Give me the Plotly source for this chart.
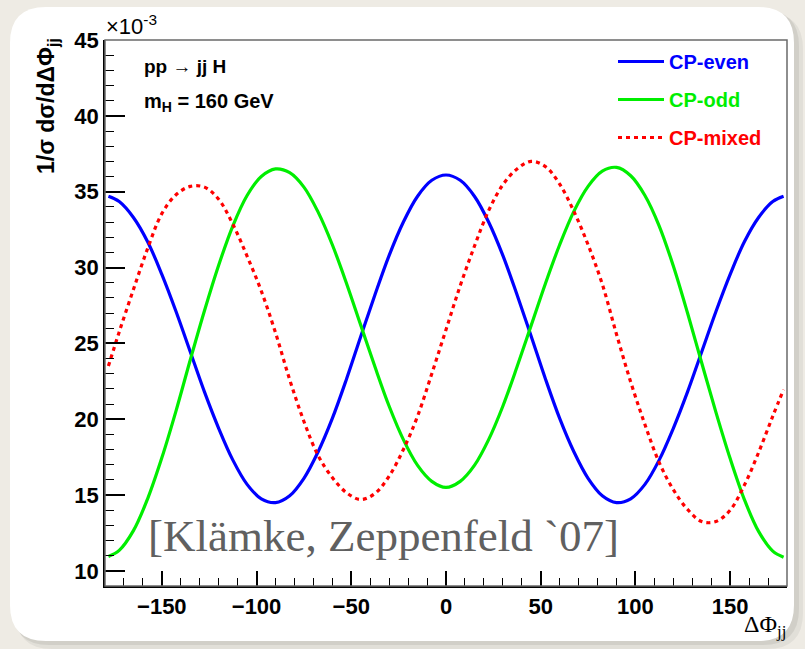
import plotly.graph_objects as go

# ---------------- data ----------------
phi = [-178.2, -172.5, -165, -157.5, -150, -142.5, -135, -127.5, -120, -112.5, -105, -97.5,
       -90, -82.5, -75, -67.5, -60, -52.5, -45, -37.5, -30, -22.5, -15, -7.5, 0,
       7.5, 15, 22.5, 30, 37.5, 45, 52.5, 60, 67.5, 75, 82.5, 90,
       97.5, 105, 112.5, 120, 127.5, 135, 142.5, 150, 157.5, 165, 172.5, 178.2]
cp_even = [34.7, 34.35, 33.3, 31.7, 29.55, 27.1, 24.45, 21.8, 19.4, 17.3, 15.7, 14.75,
           14.5, 14.95, 16.1, 17.85, 20.05, 22.65, 25.45, 28.2, 30.8, 33.0, 34.7, 35.75, 36.1,
           35.75, 34.7, 33.0, 30.8, 28.2, 25.45, 22.65, 20.05, 17.85, 16.1, 14.95, 14.5,
           14.75, 15.7, 17.3, 19.4, 21.8, 24.45, 27.1, 29.55, 31.7, 33.3, 34.35, 34.7]
cp_odd = [10.95, 11.35, 12.65, 14.75, 17.45, 20.55, 23.9, 27.15, 30.15, 32.75, 34.75, 36.0,
          36.5, 36.25, 35.3, 33.65, 31.5, 28.95, 26.2, 23.45, 20.85, 18.65, 16.95, 15.9, 15.5,
          15.9, 16.95, 18.65, 20.85, 23.45, 26.2, 28.95, 31.5, 33.7, 35.35, 36.35, 36.6,
          36.05, 34.75, 32.75, 30.1, 27.0, 23.7, 20.45, 17.4, 14.7, 12.6, 11.3, 10.9]
cp_mixed = [23.5, 25.75, 28.55, 31.25, 33.55, 34.8, 35.35, 35.3, 34.5, 32.85, 30.75, 28.45,
            25.7, 22.6, 19.85, 17.6, 16.15, 15.15, 14.7, 15.1, 16.25, 18.0, 20.2, 23.0, 25.9,
            28.8, 31.4, 33.75, 35.45, 36.5, 37.0, 36.65, 35.5, 33.7, 31.5, 28.9, 25.6,
            22.45, 19.65, 17.15, 15.35, 14.05, 13.25, 13.25, 14.0, 15.65, 17.8, 20.2, 21.95]
series_names = ["CP-even", "CP-odd", "CP-mixed"]
x_ticks = [-150, -100, -50, 0, 50, 100, 150]
y_ticks = [10, 15, 20, 25, 30, 35, 40, 45]

# ---------------- geometry ----------------
W, H = 805, 649
L, R, T, B = 105, 787, 40, 586


def xp(px):
    return (px - L) / (R - L)


def yp(py):
    return (B - py) / (B - T)


def rrect(x0, y0, x1, y1, r):
    pts = [
        ("M", (x0 + r, y0)), ("L", (x1 - r, y0)), ("Q", (x1, y0), (x1, y0 + r)),
        ("L", (x1, y1 - r)), ("Q", (x1, y1), (x1 - r, y1)), ("L", (x0 + r, y1)),
        ("Q", (x0, y1), (x0, y1 - r)), ("L", (x0, y0 + r)), ("Q", (x0, y0), (x0 + r, y0)),
    ]
    s = ""
    for item in pts:
        cmd = item[0]
        coords = " ".join(f"{xp(a):.5f},{yp(b):.5f}" for a, b in item[1:])
        s += f"{cmd} {coords} "
    return s + "Z"


SANS = "Liberation Sans, Arial, Helvetica, sans-serif"
SERIF = "Liberation Serif, Times New Roman, serif"

fig = go.Figure()
colors = ["#0000ff", "#00ee00", "#ff0000"]
for i, (name, vals) in enumerate(zip(series_names, [cp_even, cp_odd, cp_mixed])):
    fig.add_trace(go.Scatter(
        x=phi, y=vals, mode="lines", line_shape="spline",
        name=f"<span style='color:{colors[i]}'>{name}</span>",
        legendgroup=name,
        line=dict(color=colors[i], width=3.2,
                  dash="4px,4px" if name == "CP-mixed" else "solid"),
    ))

shapes = [
    dict(type="path", xref="paper", yref="paper", layer="below",
         path=rrect(16, 13, 803, 649, 36), fillcolor="rgba(0,0,0,0.05)", line=dict(width=0)),
    dict(type="path", xref="paper", yref="paper", layer="below",
         path=rrect(13, 10, 799, 645, 36), fillcolor="rgba(0,0,0,0.07)", line=dict(width=0)),
    dict(type="path", xref="paper", yref="paper", layer="below",
         path=rrect(10, 7, 794, 641, 36), fillcolor="white", line=dict(width=0)),
    dict(type="rect", xref="paper", yref="paper", x0=0, y0=0, x1=1, y1=1,
         line=dict(color="#6a6a6a", width=1.5), layer="above"),
]

annotations = [
    dict(text="×10<sup>-3</sup>", xref="paper", yref="paper", x=xp(104), y=yp(25),
         xanchor="left", yanchor="middle", showarrow=False,
         font=dict(family=SANS, size=22, color="black")),
    dict(text="1/σ dσ/dΔΦ<sub>jj</sub>", xref="paper", yref="paper", x=xp(47), y=yp(36),
         xanchor="center", yanchor="top", textangle=-90, showarrow=False,
         font=dict(family=SANS, size=23, color="black", weight="bold")),
    dict(text="pp → jj H", xref="paper", yref="paper", x=xp(142), y=yp(66),
         xanchor="left", yanchor="middle", showarrow=False,
         font=dict(family=SANS, size=19, color="black", weight="bold")),
    dict(text="m<sub>H</sub> = 160 GeV", xref="paper", yref="paper", x=xp(142), y=yp(102),
         xanchor="left", yanchor="middle", showarrow=False,
         font=dict(family=SANS, size=20, color="black", weight="bold")),
    dict(text="ΔΦ<sub>jj</sub>", xref="paper", yref="paper", x=xp(788), y=yp(626),
         xanchor="right", yanchor="middle", showarrow=False,
         font=dict(family=SERIF, size=24, color="black")),
    dict(text="[Klämke, Zeppenfeld `07]", xref="paper", yref="paper", x=xp(146), y=yp(536),
         xanchor="left", yanchor="middle", showarrow=False,
         font=dict(family=SERIF, size=45, color="#606060")),
]

fig.update_layout(
    width=W, height=H,
    margin=dict(l=L, r=W - R, t=T, b=H - B, autoexpand=False),
    paper_bgcolor="#eeebe4", plot_bgcolor="white",
    shapes=shapes, annotations=annotations,
    showlegend=True,
    legend=dict(x=xp(613), y=yp(42), xanchor="left", yanchor="top",
                bgcolor="rgba(0,0,0,0)", tracegroupgap=9,
                font=dict(family=SANS, size=20, weight="bold"),
                itemwidth=46),
    xaxis=dict(range=[-180, 180], tickvals=x_ticks, ticks="inside", ticklen=15,
               tickwidth=1.5, tickcolor="black", showgrid=False, zeroline=False,
               showline=True, linecolor="black", linewidth=1.5,
               tickfont=dict(family=SANS, size=22, color="black", weight="bold"),
               minor=dict(dtick=10, ticks="inside", ticklen=8, tickcolor="black",
                          tickwidth=1.2, showgrid=False)),
    yaxis=dict(range=[9.0, 45.0], tickvals=y_ticks, ticks="inside", ticklen=20,
               tickwidth=1.5, tickcolor="black", showgrid=False, zeroline=False,
               showline=True, linecolor="black", linewidth=1.5,
               tickfont=dict(family=SANS, size=22, color="black", weight="bold"),
               minor=dict(dtick=1, ticks="inside", ticklen=9, tickcolor="black",
                          tickwidth=1.2, showgrid=False)),
)

fig.write_html("out.html",
               config={"displayModeBar": False},
               post_script="document.body.style.margin='0';"
                           "document.body.style.background='#eeebe4';")
